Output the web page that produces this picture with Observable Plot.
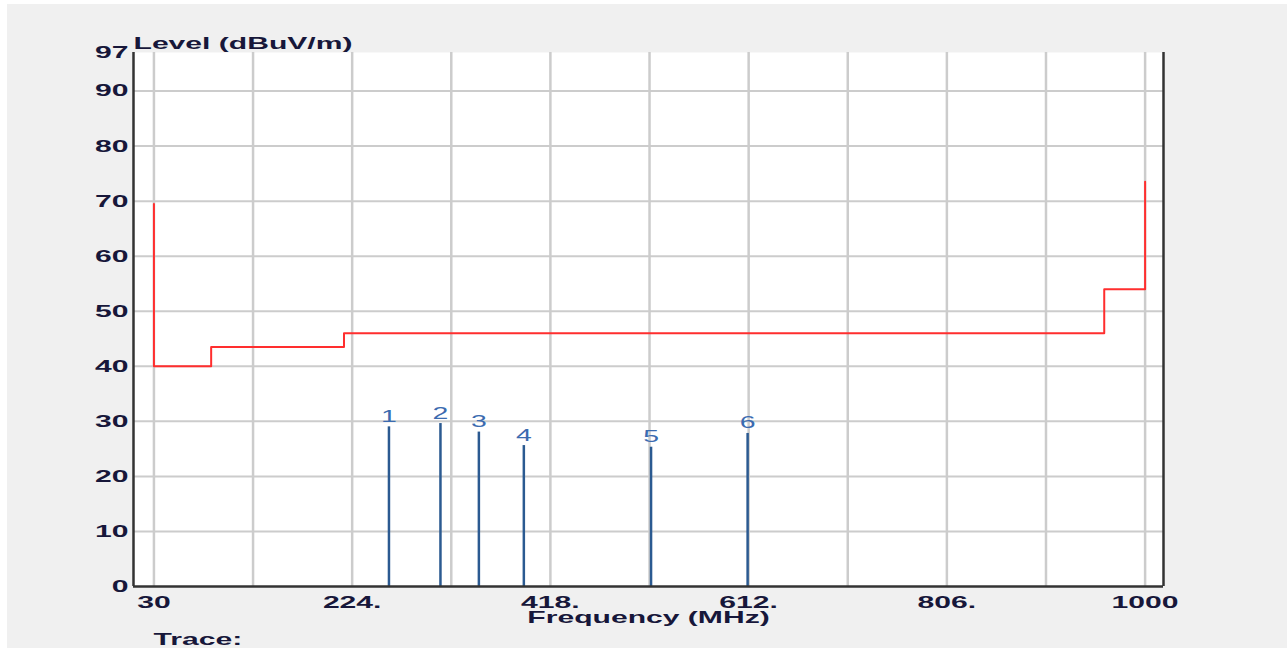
<!DOCTYPE html>
<html><head><meta charset="utf-8">
<script src="https://cdn.jsdelivr.net/npm/d3@7"></script>
<script src="https://cdn.jsdelivr.net/npm/@observablehq/plot@0.6"></script>
<style>
html,body{margin:0;padding:0;background:#fff;width:1287px;height:648px;overflow:hidden;}
#panel{position:absolute;left:7px;top:4px;width:1280px;height:644px;background:#f0f0f0;overflow:hidden;}
</style></head><body><div id="panel"></div>
<script>
// Limit line (stepped), frequency in MHz and level in dBuV/m
const limitFreq = [30, 30, 86, 86, 216, 216, 960, 960, 1000, 1000];
const limitLevel = [69.5, 40, 40, 43.5, 43.5, 46, 46, 54, 54, 73.5];
// Peak markers
const markerNo = [1, 2, 3, 4, 5, 6];
const markerFreq = [260, 310.4, 348, 392, 516.5, 611];
const markerLevel = [29, 29.6, 28.05, 25.6, 25.3, 27.8];
// Axes
const xMin = 10, xMax = 1018;
const xGrid = [30, 127, 224, 321, 418, 515, 612, 709, 806, 903, 1000];
const xTickValues = [30, 224, 418, 612, 806, 1000];
const xTickLabels = ["30", "224.", "418.", "612.", "806.", "1000"];
const yGrid = [10, 20, 30, 40, 50, 60, 70, 80, 90];
const yTickValues = [0, 10, 20, 30, 40, 50, 60, 70, 80, 90, 97];
const yTitle = "Level (dBuV/m)";
const xTitle = "Frequency (MHz)";
const traceLabel = "Trace:";

const limit = limitFreq.map((f, i) => ({f, l: limitLevel[i]}));
const markers = markerNo.map((n, i) => ({n, f: markerFreq[i], l: markerLevel[i]}));
const textColor = "#17173a";

const chart = Plot.plot({
  width: 1280, height: 644,
  marginLeft: 126, marginRight: 124, marginTop: 48, marginBottom: 62,
  x: {domain: [xMin, xMax]},
  y: {domain: [0, 97]},
  style: {background: "transparent", fontFamily: "'Liberation Sans', Arial, sans-serif", fontSize: "17px", fontWeight: "bold", color: textColor, overflow: "visible"},
  marks: [
    Plot.frame({fill: "white", stroke: null}),
    Plot.ruleY(yGrid, {stroke: "#cccccc", strokeWidth: 2}),
    Plot.ruleX(xGrid, {stroke: "#cccccc", strokeWidth: 2.5}),
    Plot.line(limit, {x: "f", y: "l", stroke: "#ff2e2e", strokeWidth: 2}),
    Plot.ruleX(markers, {x: "f", y1: 0, y2: "l", stroke: "#2b5a91", strokeWidth: 2.5}),
    Plot.text(markers, {x: "f", y: "l", text: d => String(d.n), dy: -5, lineAnchor: "bottom", fill: "#3b6bb0", fontWeight: "normal", fontSize: 16}),
    Plot.ruleX([xMin], {stroke: "#333", strokeWidth: 2.5}),
    Plot.ruleX([xMax], {stroke: "#333", strokeWidth: 2.5}),
    Plot.ruleY([0], {stroke: "#333", strokeWidth: 2.5}),
    Plot.axisX(xTickValues, {tickSize: 0, tickPadding: 9, tickFormat: d => xTickLabels[xTickValues.indexOf(d)], label: null}),
    Plot.axisY(yTickValues, {tickSize: 0, tickPadding: 5, label: null}),
    Plot.text([yTitle], {text: d => d, frameAnchor: "top-left", textAnchor: "start", lineAnchor: "bottom", dy: -4, fill: textColor}),
    Plot.text([xTitle], {text: d => d, frameAnchor: "bottom", lineAnchor: "middle", dy: 31, fill: textColor}),
    Plot.text([traceLabel], {text: d => d, frameAnchor: "bottom-left", textAnchor: "start", lineAnchor: "middle", dx: 20, dy: 53, fill: textColor})
  ]
});
document.getElementById("panel").append(chart);
// widen glyphs to match the horizontally stretched reference lettering
chart.querySelectorAll("text").forEach(t => {
  const w = t.getComputedTextLength();
  if (w > 0) {
    t.setAttribute("textLength", (w * 1.77).toFixed(1));
    t.setAttribute("lengthAdjust", "spacingAndGlyphs");
  }
});
</script></body></html>
